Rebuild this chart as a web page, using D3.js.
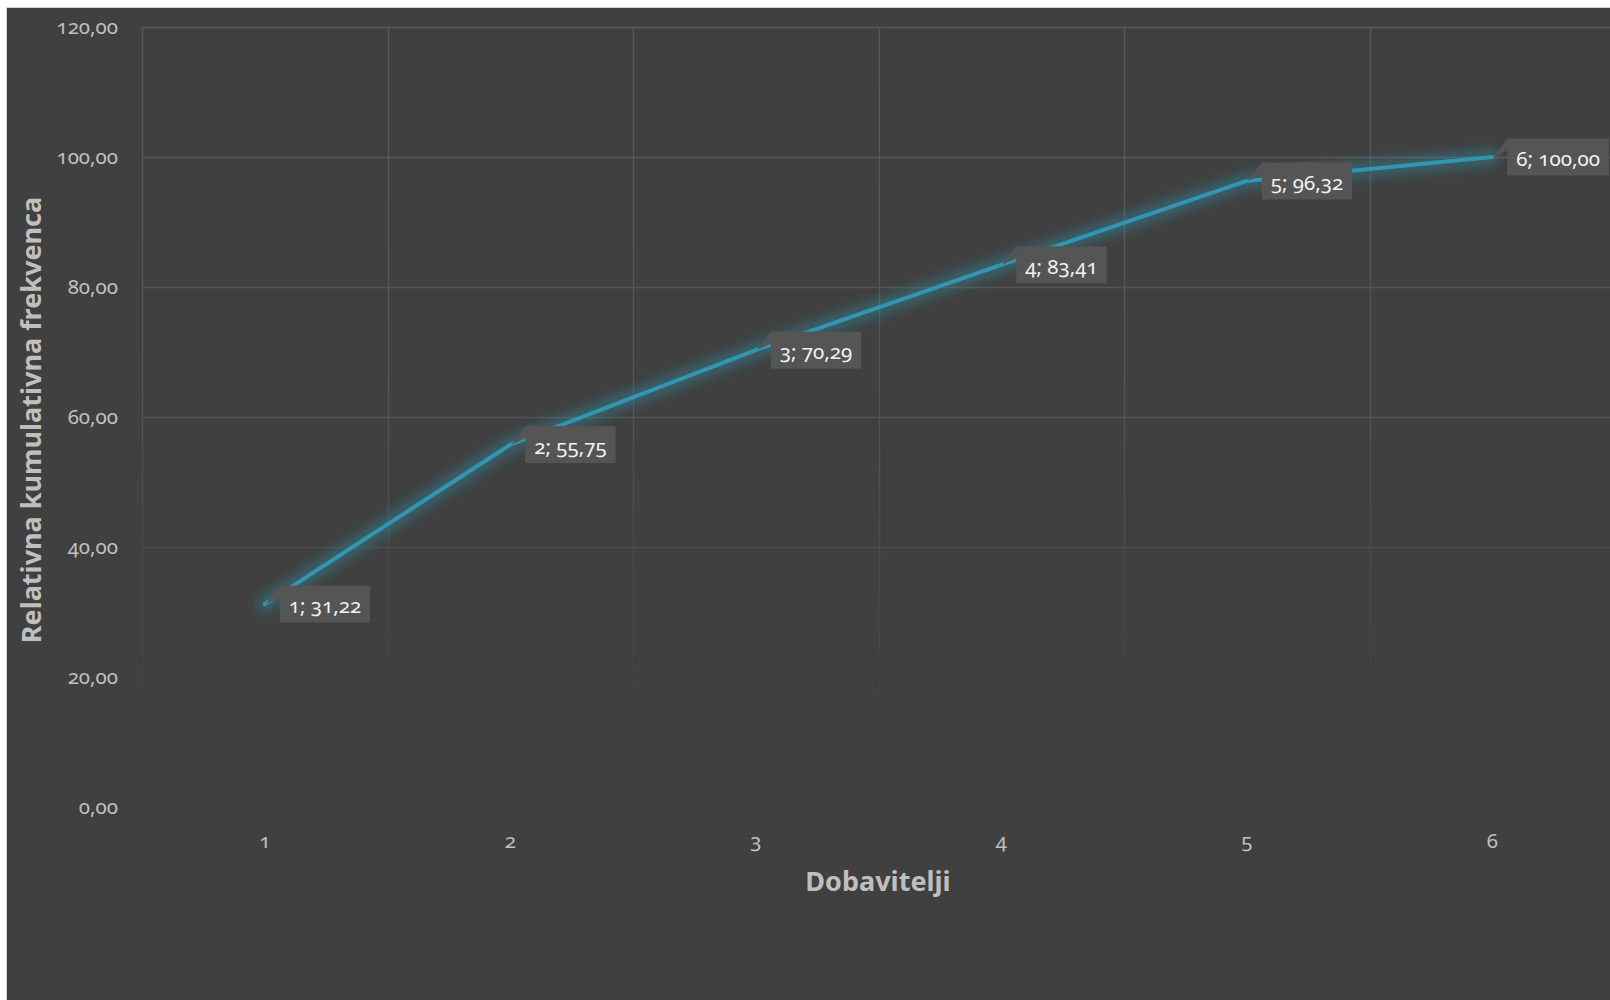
<!DOCTYPE html>
<html>
<head>
<meta charset="utf-8">
<script src="https://cdn.jsdelivr.net/npm/d3@7"></script>
<style>
  html, body { margin: 0; padding: 0; background: #ffffff; overflow: hidden; }
  svg { display: block; font-family: "Noto Sans", "Open Sans", sans-serif; font-variant-numeric: oldstyle-nums; }
</style>
</head>
<body>
<div id="chart"></div>
<script>
// data
const suppliers = [1, 2, 3, 4, 5, 6];
const cumFreq = [31.22, 55.75, 70.29, 83.41, 96.32, 100.00];
const yTicks = [0, 20, 40, 60, 80, 100, 120];
const xTitle = "Dobavitelji";
const yTitle = "Relativna kumulativna frekvenca";

const width = 1610, height = 1000;
const plot = { left: 142, top: 27, right: 1615, bottom: 807 };

const locale = d3.formatLocale({ decimal: ",", thousands: ".", grouping: [3], currency: ["", " €"] });
const fmt = locale.format(".2f");

const svg = d3.select("#chart").append("svg")
    .attr("width", width)
    .attr("height", height);

const defs = svg.append("defs");

// gridlines fade out towards the bottom of the plot
const fadeStops = [[0, "#5a5a5a"], [0.45, "#555555"], [0.62, "#4d4d4d"], [0.76, "#464646"], [0.88, "#404040"], [1, "#404040"]];
const gridGrad = defs.append("linearGradient")
    .attr("id", "gridFade")
    .attr("gradientUnits", "userSpaceOnUse")
    .attr("x1", 0).attr("y1", plot.top)
    .attr("x2", 0).attr("y2", plot.bottom);
fadeStops.forEach(s => gridGrad.append("stop").attr("offset", s[0]).attr("stop-color", s[1]));

const fadeColor = d3.scaleLinear()
    .domain(fadeStops.map(s => plot.top + s[0] * (plot.bottom - plot.top)))
    .range(fadeStops.map(s => s[1]))
    .clamp(true);

defs.append("filter")
    .attr("id", "glow")
    .attr("x", "-20%").attr("y", "-20%").attr("width", "140%").attr("height", "140%")
    .append("feGaussianBlur").attr("stdDeviation", 6);

// chart background
svg.append("rect")
    .attr("x", 6.5).attr("y", 7.5)
    .attr("width", width + 20).attr("height", height + 20)
    .attr("fill", "#404040")
    .attr("stroke", "#d4d4d4")
    .attr("stroke-width", 1);

const x = d3.scaleBand()
    .domain(suppliers)
    .range([plot.left, plot.right]);

const y = d3.scaleLinear()
    .domain([0, 120])
    .range([plot.bottom, plot.top]);

// horizontal gridlines
svg.append("g")
    .attr("class", "grid")
    .attr("transform", `translate(${plot.left},0)`)
    .call(d3.axisLeft(y).tickValues(yTicks).tickSize(-(plot.right - plot.left)).tickFormat(""))
    .call(g => g.select(".domain").remove())
    .selectAll("line")
    .attr("stroke", d => fadeColor(y(d)))
    .attr("stroke-width", 1.3);

// vertical gridlines at category edges
svg.append("g")
    .attr("class", "vgrid")
    .selectAll("line")
    .data(suppliers)
    .enter().append("line")
    .attr("x1", d => Math.round(x(d)) + 0.5)
    .attr("x2", d => Math.round(x(d)) + 0.5)
    .attr("y1", plot.top)
    .attr("y2", plot.bottom)
    .attr("stroke", "url(#gridFade)")
    .attr("stroke-width", 1.3);

// axes labels
svg.append("g")
    .attr("transform", `translate(118,0)`)
    .call(d3.axisLeft(y).tickValues(yTicks).tickSize(0).tickPadding(0).tickFormat(fmt))
    .call(g => g.select(".domain").remove())
    .selectAll("text")
    .attr("fill", "#c0c0c0")
    .style("font-size", "20.5px")
    .style("font-family", "Noto Sans, Open Sans, sans-serif");

svg.append("g")
    .attr("transform", `translate(0,${plot.bottom})`)
    .call(d3.axisBottom(x).tickSize(0).tickPadding(26))
    .call(g => g.select(".domain").remove())
    .selectAll("text")
    .attr("fill", "#c0c0c0")
    .style("font-size", "20.5px")
    .style("font-family", "Noto Sans, Open Sans, sans-serif");

// titles
svg.append("text")
    .attr("x", 878)
    .attr("y", 891)
    .attr("text-anchor", "middle")
    .attr("fill", "#bfbfbf")
    .style("font-size", "27px")
    .style("font-weight", "bold")
    .text(xTitle);

svg.append("text")
    .attr("transform", "translate(41,420) rotate(-90)")
    .attr("text-anchor", "middle")
    .attr("fill", "#bfbfbf")
    .style("font-size", "27px")
    .style("font-weight", "bold")
    .text(yTitle);

// line
const points = suppliers.map((s, i) => ({ s, v: cumFreq[i] }));
const cx = d => x(d.s) + x.bandwidth() / 2;

const line = d3.line()
    .x(cx)
    .y(d => y(d.v));

svg.append("path")
    .datum(points)
    .attr("d", line)
    .attr("fill", "none")
    .attr("stroke", "#2f8ea6")
    .attr("stroke-width", 16)
    .attr("stroke-opacity", 0.45)
    .attr("stroke-linecap", "round")
    .attr("filter", "url(#glow)");

svg.append("path")
    .datum(points)
    .attr("d", line)
    .attr("fill", "none")
    .attr("stroke", "#3396b1")
    .attr("stroke-width", 4)
    .attr("stroke-linecap", "round")
    .attr("stroke-linejoin", "round");

// data label callouts
const labels = svg.append("g").attr("class", "labels");

points.forEach(d => {
    const px = cx(d), py = y(d.v);
    const g = labels.append("g");
    const poly = g.append("path").attr("fill", "#555555");
    const rect = g.append("rect").attr("fill", "#555555");
    const t = g.append("text")
        .attr("fill", "#f2f2f2")
        .style("font-size", "20.5px")
        .attr("dominant-baseline", "central")
        .text(`${d.s}; ${fmt(d.v)}`);
    const bx = px + 15;
    const bw = t.node().getComputedTextLength() + 18;
    const bh = 37;
    const by = py - bh / 2;
    t.attr("x", bx + 9).attr("y", py + 1);
    rect.attr("x", bx).attr("y", by).attr("width", bw).attr("height", bh);
    poly.attr("d", `M${bx},${by} L${px + 1},${py} L${bx},${by + 12} Z`);
});
</script>
</body>
</html>
